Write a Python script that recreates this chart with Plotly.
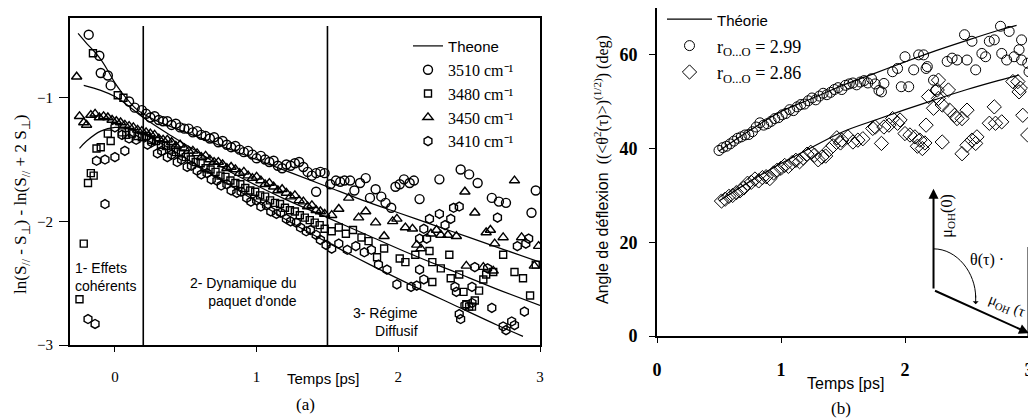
import plotly.graph_objects as go

# The page body has an 8px default margin: the figure is shifted by OFF px,
# so the figure is made smaller and every pixel position is corrected.
OFF = 8
W, H = 1036 - OFF, 418 - OFF
SANS = "Liberation Sans"
SERIF = "Liberation Serif"

# ---------------- Panel (a) data ----------------
c3510_x = [-0.185, -0.11, -0.10, -0.05, -0.03, 0.10, 0.14, 0.19,
           0.22, 0.25, 0.28, 0.31, 0.34, 0.37, 0.40, 0.43, 0.46, 0.49, 0.52, 0.55, 0.58, 0.61, 0.64,
           0.67, 0.70, 0.73, 0.76, 0.79, 0.82, 0.85, 0.88, 0.91, 0.94, 0.97, 1.00, 1.03, 1.06, 1.09,
           1.12, 1.15, 1.18, 1.21, 1.24, 1.27, 1.30, 1.33, 1.36, 1.39, 1.42, 1.45, 1.48,
           1.42, 1.52, 1.56, 1.59, 1.62, 1.66, 1.69, 1.73, 1.77, 1.80, 1.84, 1.88, 1.91, 1.95, 1.98,
           2.01, 2.04, 2.08, 2.11, 2.15, 2.29, 2.44, 2.50, 2.56, 2.66, 2.71, 2.76, 2.94, 2.97]
c3510_y = [-0.49, -0.66, -0.80, -0.82, -0.90, -1.03, -1.08, -1.10,
           -1.13, -1.16, -1.15, -1.18, -1.19, -1.19, -1.22, -1.21, -1.24, -1.25, -1.25, -1.28, -1.27, -1.30, -1.31,
           -1.33, -1.32, -1.36, -1.35, -1.38, -1.40, -1.39, -1.42, -1.44, -1.43, -1.46, -1.49, -1.47, -1.50, -1.52,
           -1.51, -1.55, -1.57, -1.54, -1.55, -1.53, -1.52, -1.56, -1.60, -1.63, -1.61, -1.60, -1.61,
           -1.76, -1.70, -1.67, -1.68, -1.67, -1.67, -1.75, -1.69, -1.65, -1.81, -1.74, -1.80, -1.85, -1.89, -1.72,
           -1.70, -1.66, -1.69, -1.67, -1.82, -1.66, -1.58, -1.62, -1.69, -1.81, -1.84, -1.85, -1.93, -1.75]

s3480_x = [-0.25, -0.22, -0.19, -0.17, -0.15, -0.13, -0.10, -0.05, -0.03, -0.155, 0.02, 0.06, 0.05, 0.08, 0.12, 0.16, 0.19,
           0.22, 0.255, 0.29, 0.325, 0.36, 0.395, 0.43, 0.465, 0.50, 0.535, 0.57, 0.605, 0.64, 0.675, 0.71,
           0.745, 0.78, 0.815, 0.85, 0.885, 0.92, 0.955, 0.99, 1.025, 1.06, 1.095, 1.13, 1.165, 1.20, 1.235,
           1.27, 1.305, 1.34, 1.375, 1.41, 1.445, 1.48,
           1.53, 1.58, 1.63, 1.68, 1.74, 1.79, 1.85, 1.90, 2.01, 2.05, 2.12, 2.22, 2.24, 2.30, 2.36, 2.24,
           2.37, 2.43, 2.46, 2.48, 2.54, 2.57, 2.60, 2.62, 2.67, 2.74, 2.82, 2.88, 2.93, 2.50, 2.52, 2.97]
s3480_y = [-2.63, -2.18, -1.69, -1.61, -1.63, -1.41, -1.40, -1.29, -1.35, -0.64, -0.98, -1.00, -1.28, -1.30, -1.29, -1.31, -1.32,
           -1.31, -1.34, -1.35, -1.38, -1.39, -1.42, -1.44, -1.45, -1.48, -1.50, -1.52, -1.53, -1.57, -1.58, -1.60,
           -1.63, -1.64, -1.67, -1.69, -1.70, -1.73, -1.75, -1.76, -1.79, -1.80, -1.83, -1.85, -1.86, -1.89, -1.91,
           -1.92, -1.95, -1.97, -1.99, -2.01, -2.03, -2.06,
           -2.08, -2.05, -2.10, -2.07, -2.13, -2.16, -2.29, -2.22, -2.30, -2.33, -2.27, -2.24, -2.33, -2.38, -2.27, -2.49,
           -2.46, -2.43, -2.57, -2.67, -2.64, -2.56, -2.47, -2.43, -2.41, -2.27, -2.41, -2.46, -2.60, -2.69, -2.69, -2.35]

t3450_x = [-0.27, -0.25, -0.22, -0.20, -0.17, -0.14, -0.11, -0.08, -0.05, -0.02, 0.01, 0.04, 0.07, 0.10, 0.13, 0.16, 0.19,
           0.22, 0.25, 0.28, 0.31, 0.34, 0.37, 0.40, 0.43, 0.46, 0.49, 0.52, 0.55, 0.58, 0.61, 0.64, 0.67,
           0.70, 0.73, 0.76, 0.79, 0.82, 0.85, 0.88, 0.91, 0.94, 0.97, 1.00, 1.03, 1.06, 1.09, 1.12, 1.15,
           1.18, 1.21, 1.24, 1.27, 1.30, 1.33, 1.36, 1.39, 1.42, 1.45, 1.48,
           1.53, 1.58, 1.65, 1.72, 1.77, 1.84, 1.90, 1.96, 1.99, 2.05, 2.10, 2.13, 2.16, 2.23, 2.27, 2.30,
           2.35, 2.41, 2.47, 2.48, 2.54, 2.60, 2.62, 2.65, 2.67, 2.68, 2.74, 2.82, 2.87, 2.96, 2.99]
t3450_y = [-0.83, -1.15, -1.20, -1.22, -1.14, -1.13, -1.16, -1.15, -1.16, -1.18, -1.19, -1.20, -1.22, -1.23, -1.24, -1.26, -1.27,
           -1.28, -1.29, -1.30, -1.33, -1.34, -1.34, -1.36, -1.39, -1.38, -1.41, -1.43, -1.43, -1.45, -1.48, -1.47, -1.50,
           -1.52, -1.52, -1.54, -1.57, -1.56, -1.58, -1.61, -1.60, -1.63, -1.65, -1.64, -1.67, -1.70, -1.69, -1.72, -1.75,
           -1.74, -1.77, -1.80, -1.79, -1.83, -1.84, -1.88, -1.87, -1.91, -1.92, -1.94,
           -1.95, -1.90, -1.81, -1.97, -1.92, -2.01, -2.12, -2.00, -1.98, -2.05, -2.06, -2.19, -2.22, -2.10, -2.07, -2.11,
           -2.11, -2.12, -1.76, -2.36, -1.93, -2.37, -2.09, -2.07, -2.40, -2.18, -2.13, -1.67, -2.13, -2.36, -2.20]

h3410_x = [-0.19, -0.14, -0.07, -0.13, -0.07, 0.00, 0.07, 0.00, 0.05, 0.10, 0.15,
           0.23, 0.26, 0.30, 0.33, 0.37, 0.40, 0.44, 0.47, 0.51, 0.54, 0.58, 0.61, 0.65, 0.68, 0.72, 0.75,
           0.79, 0.82, 0.86, 0.89, 0.93, 0.96, 1.00, 1.03, 1.07, 1.10, 1.14, 1.17, 1.21, 1.24, 1.28, 1.31,
           1.35, 1.38, 1.42, 1.45, 1.49,
           1.53, 1.58, 1.64, 1.70, 1.76, 1.81, 1.86, 1.92, 1.99, 2.09, 2.13, 2.15, 2.18, 2.40, 2.43, 2.41,
           2.47, 2.52, 2.44, 2.66, 2.74, 2.80, 2.89, 2.52, 2.54, 2.63, 2.70, 2.33, 2.37, 2.39, 2.43, 2.29,
           2.22, 2.18, 2.15, 2.20, 2.92, 2.90, 2.84, 2.82, 2.76]
h3410_y = [-2.79, -2.83, -1.86, -1.51, -1.50, -1.48, -1.43, -1.24, -1.30, -1.33, -1.34,
           -1.38, -1.36, -1.45, -1.43, -1.48, -1.46, -1.52, -1.50, -1.56, -1.55, -1.59, -1.62, -1.61, -1.66, -1.67, -1.71,
           -1.70, -1.75, -1.77, -1.76, -1.81, -1.84, -1.83, -1.88, -1.87, -1.92, -1.94, -1.93, -1.98, -2.00, -2.01, -2.05,
           -2.08, -2.07, -2.11, -2.15, -2.19,
           -2.22, -2.18, -2.23, -2.20, -2.25, -2.23, -2.35, -2.39, -2.51, -2.53, -2.52, -2.39, -2.47, -2.53, -2.75, -2.57,
           -2.68, -2.66, -2.79, -2.70, -2.85, -2.81, -2.73, -2.53, -2.37, -2.38, -1.97, -2.03, -1.98, -1.89, -1.88, -1.94,
           -1.98, -2.06, -2.14, -2.14, -2.14, -2.18, -2.20, -2.84, -2.88]

# theory curves, panel (a)
th1_x = [-0.26, -0.20, -0.15, -0.10, -0.05, 0.00, 0.05, 0.10, 0.15, 0.20, 0.30, 0.50, 0.75, 1.00,
         1.25, 1.50, 1.75, 2.00, 2.25, 2.50, 2.75, 3.00]
th1_y = [-0.48, -0.56, -0.62, -0.69, -0.78, -0.88, -0.96, -1.03, -1.09, -1.13, -1.19, -1.28, -1.39, -1.50,
         -1.61, -1.72, -1.83, -1.93, -2.03, -2.13, -2.23, -2.33]
th2_x = [-0.22, -0.10, 0.00, 0.10, 0.20, 0.40, 0.60, 0.80, 1.00, 1.20, 1.50, 1.80, 2.10, 2.40, 2.70, 3.00]
th2_y = [-0.90, -0.94, -0.99, -1.07, -1.16, -1.31, -1.45, -1.59, -1.71, -1.82, -1.97, -2.12, -2.27, -2.41, -2.55, -2.68]
th3_x = [-0.25, -0.20, -0.10, 0.00, 0.10, 0.20, 0.40, 0.60, 0.80, 1.00, 1.20, 1.50, 1.80, 2.10, 2.40, 2.70, 2.88]
th3_y = [-1.41, -1.35, -1.27, -1.24, -1.25, -1.29, -1.42, -1.56, -1.70, -1.84, -1.98, -2.17, -2.35, -2.52, -2.68, -2.84, -2.93]

region_bounds = [0.2, 1.5]

# ---------------- Panel (b) data ----------------
r299_x = [0.50, 0.53, 0.56, 0.59, 0.62, 0.65, 0.68, 0.71, 0.74, 0.77, 0.80, 0.83, 0.86, 0.89, 0.92, 0.95,
          0.98, 1.01, 1.04, 1.07, 1.10, 1.13, 1.16, 1.19, 1.22, 1.25, 1.28, 1.31, 1.34, 1.37, 1.40, 1.43,
          1.46, 1.49, 1.52, 1.55, 1.58, 1.61, 1.64, 1.67, 1.70, 1.73, 1.76, 1.79,
          2.48, 2.54, 2.68, 2.72, 2.77, 2.84, 2.94, 2.92, 2.82, 2.88, 2.78, 2.62, 2.65, 2.57, 2.50, 2.42,
          2.38, 2.34, 2.18, 2.15, 2.11, 2.00, 1.90, 1.94, 2.07, 2.17, 2.23, 2.25, 1.97, 2.03, 1.81, 1.83,
          2.99, 3.00, 2.94]
r299_y = [39.6, 40.2, 40.5, 41.0, 41.6, 42.2, 42.5, 42.9, 43.0, 43.6, 44.6, 45.5, 45.0, 45.3, 45.8, 46.4,
          46.6, 47.2, 47.5, 48.3, 48.1, 48.9, 49.4, 49.5, 50.2, 50.8, 50.4, 51.2, 51.8, 51.5, 52.0, 52.6,
          53.0, 52.6, 53.5, 53.8, 54.0, 53.6, 54.2, 54.5, 54.0, 54.9, 53.8, 52.4,
          64.3, 62.9, 62.9, 63.2, 66.1, 65.0, 63.2, 61.1, 58.9, 59.6, 60.3, 60.3, 59.6, 56.8, 58.9, 58.9,
          59.3, 58.6, 57.5, 60.0, 60.0, 59.6, 56.4, 57.1, 56.8, 57.1, 54.6, 52.5, 53.2, 53.2, 52.1, 53.9,
          58.2, 56.4, 58.9]

r286_x = [0.52, 0.55, 0.58, 0.61, 0.64, 0.67, 0.70, 0.73, 0.76, 0.79, 0.82, 0.85, 0.88, 0.91, 0.94, 0.97,
          1.00, 1.03, 1.06, 1.09, 1.12, 1.15, 1.18, 1.21, 1.24, 1.27, 1.30, 1.33, 1.36, 1.39, 1.42, 1.45, 1.48,
          2.19, 2.26, 2.27, 2.23, 2.30, 2.36, 2.40, 2.42, 2.46, 2.50, 2.72, 2.68, 2.73, 2.78, 2.54, 2.58,
          2.57, 2.50, 2.46, 2.30, 2.17, 2.04, 2.08, 2.12, 2.00, 1.94, 1.96, 1.87, 1.83, 1.90, 1.74, 1.76,
          1.66, 1.62, 1.58, 1.54, 1.49, 1.81, 2.87, 2.91, 2.93, 2.95, 2.99, 2.27, 2.35, 2.92, 2.10, 2.14, 2.16]
r286_y = [28.8, 29.2, 29.8, 30.0, 30.6, 31.0, 31.6, 32.6, 32.8, 33.5, 33.1, 33.8, 34.0, 33.6, 34.8, 35.4,
          35.8, 36.4, 36.2, 37.0, 37.5, 37.2, 38.0, 38.8, 39.2, 38.6, 37.6, 38.2, 38.4, 39.8, 40.6, 42.3, 41.2,
          51.1, 52.5, 50.7, 48.6, 49.3, 48.2, 47.1, 46.4, 46.4, 48.2, 48.9, 45.4, 45.4, 45.7, 41.8, 42.5,
          41.1, 40.7, 38.9, 41.4, 45.0, 42.9, 42.5, 41.8, 43.2, 45.4, 46.1, 45.0, 44.6, 46.4, 44.3, 44.6,
          42.1, 41.8, 41.4, 42.5, 41.8, 41.1, 54.3, 54.3, 52.9, 47.1, 42.9, 54.6, 52.5, 52.1, 40.5, 40.0, 41.2]

thb1_x = [0.50, 0.75, 1.00, 1.25, 1.50, 1.75, 2.00, 2.25, 2.50, 2.75, 2.90]
thb1_y = [39.5, 43.9, 47.9, 50.7, 53.5, 56.0, 58.5, 60.9, 63.1, 65.2, 66.3]
thb2_x = [0.50, 0.75, 1.00, 1.25, 1.50, 1.75, 2.00, 2.25, 2.50, 2.75, 2.92]
thb2_y = [28.8, 33.0, 36.8, 40.3, 43.6, 46.0, 48.3, 50.5, 52.6, 54.5, 55.7]

xa_ticks = [0, 1, 2, 3]
ya_ticks = [-1, -2, -3]
xb_ticks = [0, 1, 2, 3]
yb_ticks = [0, 20, 40, 60]


def dx(px):  # page pixel -> paper fraction (x)
    return min(1.0, max(0.0, (px - OFF) / W))


def dy(py):  # page pixel -> paper fraction (y)
    return min(1.0, max(0.0, 1 - (py - OFF) / H))


def dy_free(py):  # page pixel -> paper fraction, may exceed [0, 1] (legends)
    return 1 - (py - OFF) / H


fig = go.Figure()


def theory(x, y, xa, ya, name, show, leg):
    fig.add_trace(go.Scatter(x=x, y=y, mode="lines", line=dict(color="black", width=1.2, shape="spline"),
                             name=name, showlegend=show, xaxis=xa, yaxis=ya, legend=leg, hoverinfo="skip"))


def pts(x, y, sym, size, name, xa, ya, leg, lw=1.4):
    fig.add_trace(go.Scatter(x=x, y=y, mode="markers", name=name, xaxis=xa, yaxis=ya, legend=leg,
                             marker=dict(symbol=sym, size=size, color="black", line=dict(color="black", width=lw))))


theory(th1_x, th1_y, "x", "y", '<span style="font-family:Liberation Sans;font-size:15px">Theone</span>', True, "legend")
pts(c3510_x, c3510_y, "circle-open", 9, "3510 cm⁻¹", "x", "y", "legend")
pts(s3480_x, s3480_y, "square-open", 7, "3480 cm⁻¹", "x", "y", "legend")
pts(t3450_x, t3450_y, "triangle-up-open", 9, "3450 cm⁻¹", "x", "y", "legend")
pts(h3410_x, h3410_y, "hexagon-open", 9, "3410 cm⁻¹", "x", "y", "legend")
theory(th2_x, th2_y, "x", "y", "", False, "legend")
theory(th3_x, th3_y, "x", "y", "", False, "legend")

theory(thb1_x, thb1_y, "x2", "y2", '<span style="font-family:Liberation Sans;font-size:15px">Théorie</span>',
       True, "legend2")
pts(r299_x, r299_y, "circle-open", 10, "r<sub>O...O</sub> = 2.99", "x2", "y2", "legend2", lw=1)
pts(r286_x, r286_y, "diamond-open", 11, "r<sub>O...O</sub> = 2.86", "x2", "y2", "legend2", lw=1)
theory(thb2_x, thb2_y, "x2", "y2", "", False, "legend2")

axis_common = dict(showgrid=False, zeroline=False, showline=True, linecolor="black", mirror=True,
                   ticks="outside", tickcolor="black", automargin=False)

fig.update_layout(
    width=W, height=H, margin=dict(l=0, r=0, t=0, b=0, autoexpand=False),
    paper_bgcolor="white", plot_bgcolor="white",
    xaxis=dict(domain=[dx(70), dx(540)], range=[-0.317, 3.0], tickvals=xa_ticks, ticklen=5, linewidth=2,
               tickfont=dict(family=SERIF, size=15, color="black"), ticklabelstandoff=12, anchor="y", **axis_common),
    yaxis=dict(domain=[dy(345), dy(18)], range=[-3, -0.355], tickvals=ya_ticks, ticklen=9, linewidth=2,
               tickfont=dict(family=SERIF, size=15, color="black"), ticklabelstandoff=3, anchor="x", **axis_common),
    xaxis2=dict(domain=[dx(657), dx(1029)], range=[0, 3.0], tickvals=xb_ticks, ticklen=5, linewidth=1.6,
                tickfont=dict(family=SERIF, size=18, color="black", weight="bold"), ticklabelstandoff=12,
                anchor="y2", **axis_common),
    yaxis2=dict(domain=[dy(336), dy(8)], range=[0, 70.0], tickvals=yb_ticks, ticklen=6, linewidth=1.6,
                tickfont=dict(family=SERIF, size=18, color="black", weight="bold"), ticklabelstandoff=8,
                anchor="x2", **axis_common),
    legend=dict(x=dx(408), y=dy_free(29), xanchor="left", yanchor="top", bgcolor="rgba(0,0,0,0)",
                font=dict(family=SERIF, size=16, color="black"), tracegroupgap=0, itemwidth=30),
    legend2=dict(x=dx(662), y=dy_free(1), xanchor="left", yanchor="top", bgcolor="rgba(0,0,0,0)",
                 font=dict(family=SERIF, size=18, color="black"), tracegroupgap=0, itemwidth=45),
)

# region boundaries in panel (a)
for xb in region_bounds:
    fig.add_shape(type="line", xref="x", yref="y", x0=xb, x1=xb, y0=-0.42, y1=-3,
                  line=dict(color="black", width=1.6))

ann_font = dict(family=SANS, size=14, color="black")
fig.add_annotation(xref="x", yref="y", x=-0.295, y=-2.45, text="1- Effets<br>cohérents", showarrow=False,
                   xanchor="left", yanchor="middle", align="left", font=ann_font)
fig.add_annotation(xref="x", yref="y", x=1.30, y=-2.57, text="2- Dynamique du<br>paquet d'onde", showarrow=False,
                   xanchor="right", yanchor="middle", align="right", font=ann_font)
fig.add_annotation(xref="x", yref="y", x=2.155, y=-2.81, text="3- Régime<br>Diffusif", showarrow=False,
                   xanchor="right", yanchor="middle", align="right", font=ann_font)


def caption(px, py, text, font, angle=0):
    fig.add_annotation(xref="paper", yref="paper", x=dx(px), y=dy(py), text=text, showarrow=False,
                       xanchor="center", yanchor="middle", textangle=angle, font=font)


caption(22, 205, "ln(S<sub>//</sub> - S<sub>⊥</sub>) - ln(S<sub>//</sub> + 2 S<sub>⊥</sub>)",
        dict(family=SERIF, size=17, color="black"), -90)
caption(323, 378, "Temps [ps]", dict(family=SANS, size=15, color="black"))
caption(305, 404, "(a)", dict(family=SERIF, size=17, color="black"))
caption(845, 383, "Temps [ps]", dict(family=SANS, size=16, color="black"))
caption(841, 408, "(b)", dict(family=SERIF, size=17, color="black"))
caption(601, 170, '<span style="font-family:Liberation Sans">Angle de déflexion</span>  '
                  '((&lt;θ<sup>2</sup>(τ)&gt;)<sup>(1/2)</sup>) (deg)',
        dict(family=SERIF, size=16, color="black"), -90)

# inset sketch in panel (b)
base = (2.23, 9.8)
fig.add_annotation(xref="x2", yref="y2", axref="x2", ayref="y2", x=2.23, y=31.4, ax=base[0], ay=base[1],
                   text="", showarrow=True, arrowhead=2, arrowsize=1, arrowwidth=2, arrowcolor="black")
fig.add_annotation(xref="x2", yref="y2", axref="x2", ayref="y2", x=3.0, y=0.6, ax=base[0], ay=base[1],
                   text="", showarrow=True, arrowhead=2, arrowsize=1, arrowwidth=2, arrowcolor="black")
fig.add_shape(type="path", xref="x2", yref="y2", path="M 2.23,18.6 C 2.42,18.6 2.57,13.5 2.57,8.2",
              line=dict(color="black", width=1))
fig.add_annotation(xref="x2", yref="y2", axref="x2", ayref="y2", x=2.57, y=6.8, ax=2.57, ay=9.0,
                   text="", showarrow=True, arrowhead=1, arrowsize=1, arrowwidth=1, arrowcolor="black")
fig.add_shape(type="line", xref="x2", yref="y2", x0=3.0, x1=3.0, y0=0, y1=19, line=dict(color="black", width=3))
fig.add_annotation(xref="x2", yref="y2", x=2.66, y=16.3, text="θ(τ) ·", showarrow=False,
                   xanchor="center", yanchor="middle", font=dict(family=SERIF, size=16, color="black"))
fig.add_annotation(xref="x2", yref="y2", x=2.34, y=25.5, text="μ<sub>OH</sub>(0)", textangle=-90, showarrow=False,
                   xanchor="center", yanchor="middle", font=dict(family=SERIF, size=16, color="black"))
fig.add_annotation(xref="x2", yref="y2", x=2.82, y=6.5, text="μ<sub>OH</sub> (τ", textangle=22, showarrow=False,
                   xanchor="center", yanchor="middle", font=dict(family=SERIF, size=15, color="black"))

fig.write_html("out.html")
